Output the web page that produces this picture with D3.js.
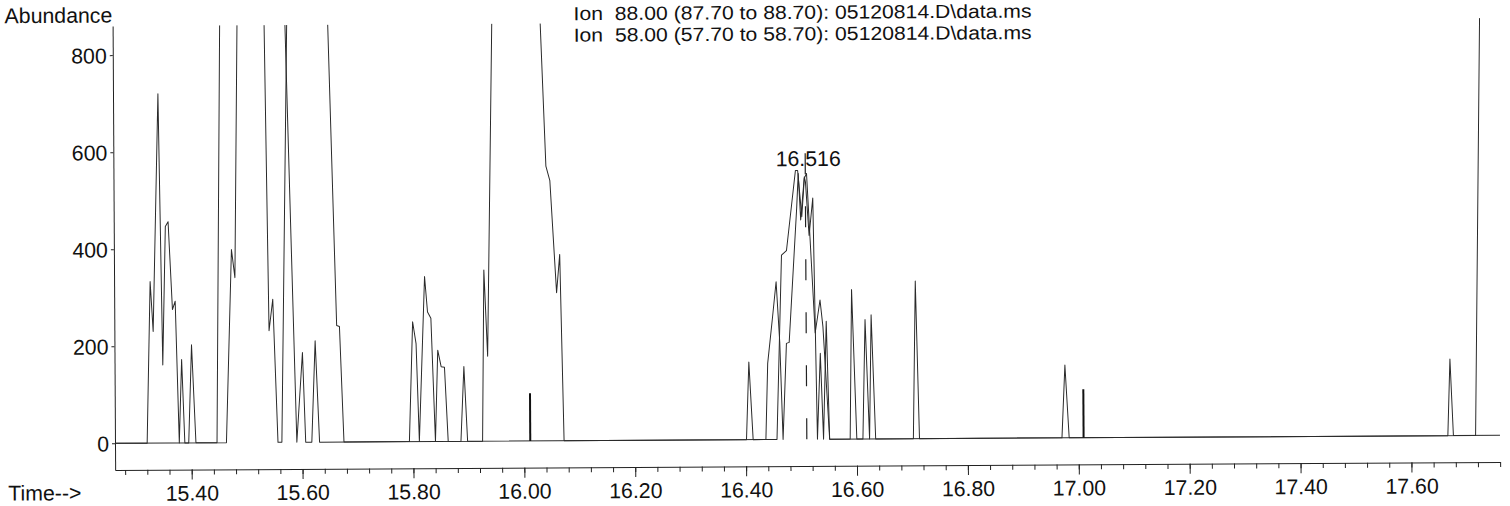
<!DOCTYPE html>
<html><head><meta charset="utf-8">
<script src="https://cdn.jsdelivr.net/npm/d3@7"></script>
<style>
html,body{margin:0;padding:0;background:#fff;}
svg{display:block;}
text{font-family:"Liberation Sans",Arial,Helvetica,sans-serif;font-size:21.3px;fill:#111;white-space:pre;}
text.legend{font-size:19px;}
</style></head><body>
<svg id="chart" width="1510" height="506"></svg>
<script>
// ---- data (time in min, abundance) ----
const ion88 = [
  [15.262,0],[15.320,0],[15.327,333],[15.332,230],[15.343,720],[15.349,161],[15.355,446],[15.360,456],
  [15.367,275],[15.372,292],[15.378,0],[15.383,172],[15.388,0],[15.395,0],[15.401,202],[15.408,0],
  [15.446,0],[15.457,1050],[15.490,3800],[15.515,2600],[15.533,1100],[15.541,230],[15.548,295],
  [15.556,0],[15.563,0],[15.578,1000],[15.610,2900],[15.647,1000],[15.663,240],[15.668,238],[15.675,0],
  [15.925,0],[15.929,353],[15.935,175],[15.948,1000],[15.980,4200],[16.010,3000],[16.029,1000],
  [16.042,566],[16.049,536],[16.060,305],[16.066,384],[16.072,0],
  [16.436,0],[16.440,157],[16.449,250],[16.456,325],[16.462,200],[16.467,0],[16.474,198],[16.479,200],
  [16.494,479],[16.497,548],[16.501,452],[16.508,541],[16.510,530],[16.516,420],[16.523,497],[16.529,0],
  [16.535,177],[16.540,0],[16.546,243],[16.551,0],
  [17.716,0],[17.728,900],[17.740,3000],[17.760,5000]
];
const ion58 = [
  [15.262,0],[15.463,0],[15.474,398],[15.480,340],[15.488,1000],[15.520,3500],[15.555,2000],[15.570,1000],
  [15.590,0],[15.601,185],[15.606,0],[15.617,0],[15.624,209],[15.631,0],
  [15.793,0],[15.800,247],[15.806,202],[15.811,0],[15.822,340],[15.827,267],[15.833,254],[15.840,0],
  [15.845,188],[15.851,154],[15.857,153],[15.863,0],[15.886,0],[15.892,154],[15.898,0],
  [16.401,0],[16.406,160],[16.413,0],[16.456,0],[16.466,380],[16.475,389],[16.492,554],[16.496,554],
  [16.503,459],[16.508,538],[16.512,548],[16.526,219],[16.535,287],[16.540,232],[16.551,0],
  [16.588,0],[16.592,308],[16.600,0],[16.611,0],[16.616,246],[16.623,0],[16.627,256],[16.634,0],
  [16.702,0],[16.707,325],[16.713,0],
  [16.970,0],[16.976,150],[16.983,0],
  [17.666,0],[17.6705,158],[17.676,0],[17.760,0]
];
const markerBars = [[16.011,98],[17.009,100]];
const peakMarkTime = 16.5098;
const peakMarkTop = 600;
const peakMarkText = "16.516";
const yTicks = [0,200,400,600,800];
const xTicks = [15.4,15.6,15.8,16.0,16.2,16.4,16.6,16.8,17.0,17.2,17.4,17.6];
const xTickLabels = ["15.40","15.60","15.80","16.00","16.20","16.40","16.60","16.80","17.00","17.20","17.40","17.60"];
const legendLines = [
  "Ion  88.00 (87.70 to 88.70): 05120814.D\\data.ms",
  "Ion  58.00 (57.70 to 58.70): 05120814.D\\data.ms"
];

// ---- scales ----
const x = d3.scaleLinear().domain([15.262,17.76]).range([115,1500]);
const y = d3.scaleLinear().domain([-55,860]).range([470,26]);

const svg = d3.select("#chart");
svg.append("defs").append("clipPath").attr("id","plotclip")
  .append("rect").attr("x",115).attr("y",26).attr("width",1386).attr("height",444);

const g = svg.append("g").attr("transform","rotate(-0.33,115,443)");

// y axis
const gy = g.append("g").attr("transform","translate(115,0)")
  .call(d3.axisLeft(y).tickValues(yTicks).tickSize(3).tickPadding(3).tickSizeOuter(0));
gy.selectAll("text").attr("dy","0.36em");
gy.selectAll("path,line").attr("stroke","#222");

// x axis: minor ticks
const minorTicks = d3.range(15.28, 17.7601, 0.04);
const gxm = g.append("g").attr("transform","translate(0,470)")
  .call(d3.axisBottom(x).tickValues(minorTicks).tickSize(5).tickFormat("").tickSizeOuter(0));
gxm.selectAll("path,line").attr("stroke","#222");
// x axis: major ticks with labels
const gx = g.append("g").attr("transform","translate(0,470)")
  .call(d3.axisBottom(x).tickValues(xTicks).tickSize(10).tickSizeOuter(0)
    .tickFormat((d,i)=>xTickLabels[i]));
gx.select(".domain").remove();
gx.selectAll("line").attr("stroke","#222");
gx.selectAll("text").attr("y",31).attr("dy",null);

// traces
const line = d3.line().x(d=>x(d[0])).y(d=>y(d[1]));
const plot = g.append("g").attr("clip-path","url(#plotclip)");
[ion88, ion58].forEach(s=>{
  plot.append("path").datum(s).attr("d",line)
    .attr("fill","none").attr("stroke","#2a2a2a").attr("stroke-width",1)
    .attr("stroke-linejoin","round");
});
// marker bars
plot.selectAll("line.bar").data(markerBars).join("line").attr("class","bar")
  .attr("x1",d=>x(d[0])).attr("x2",d=>x(d[0]))
  .attr("y1",y(0)).attr("y2",d=>y(d[1]))
  .attr("stroke","#111").attr("stroke-width",2);
// dashed peak marker
plot.append("line")
  .attr("x1",x(peakMarkTime)).attr("x2",x(peakMarkTime))
  .attr("y1",y(0)).attr("y2",y(peakMarkTop))
  .attr("stroke","#222").attr("stroke-width",1.2).attr("stroke-dasharray","21,32");
g.append("text").attr("x",x(peakMarkTime)+3).attr("y",170)
  .attr("text-anchor","middle").text(peakMarkText);

// labels
g.append("text").attr("x",7).attr("y",22.5).text("Abundance");
g.append("text").attr("x",8).attr("y",500).text("Time-->");
g.selectAll("text.legend").data(legendLines).join("text").attr("class","legend")
  .attr("x",576).attr("y",(d,i)=>22.8+i*21.5)
  .attr("textLength",458).attr("lengthAdjust","spacingAndGlyphs")
  .text(d=>d);
</script>
</body></html>
